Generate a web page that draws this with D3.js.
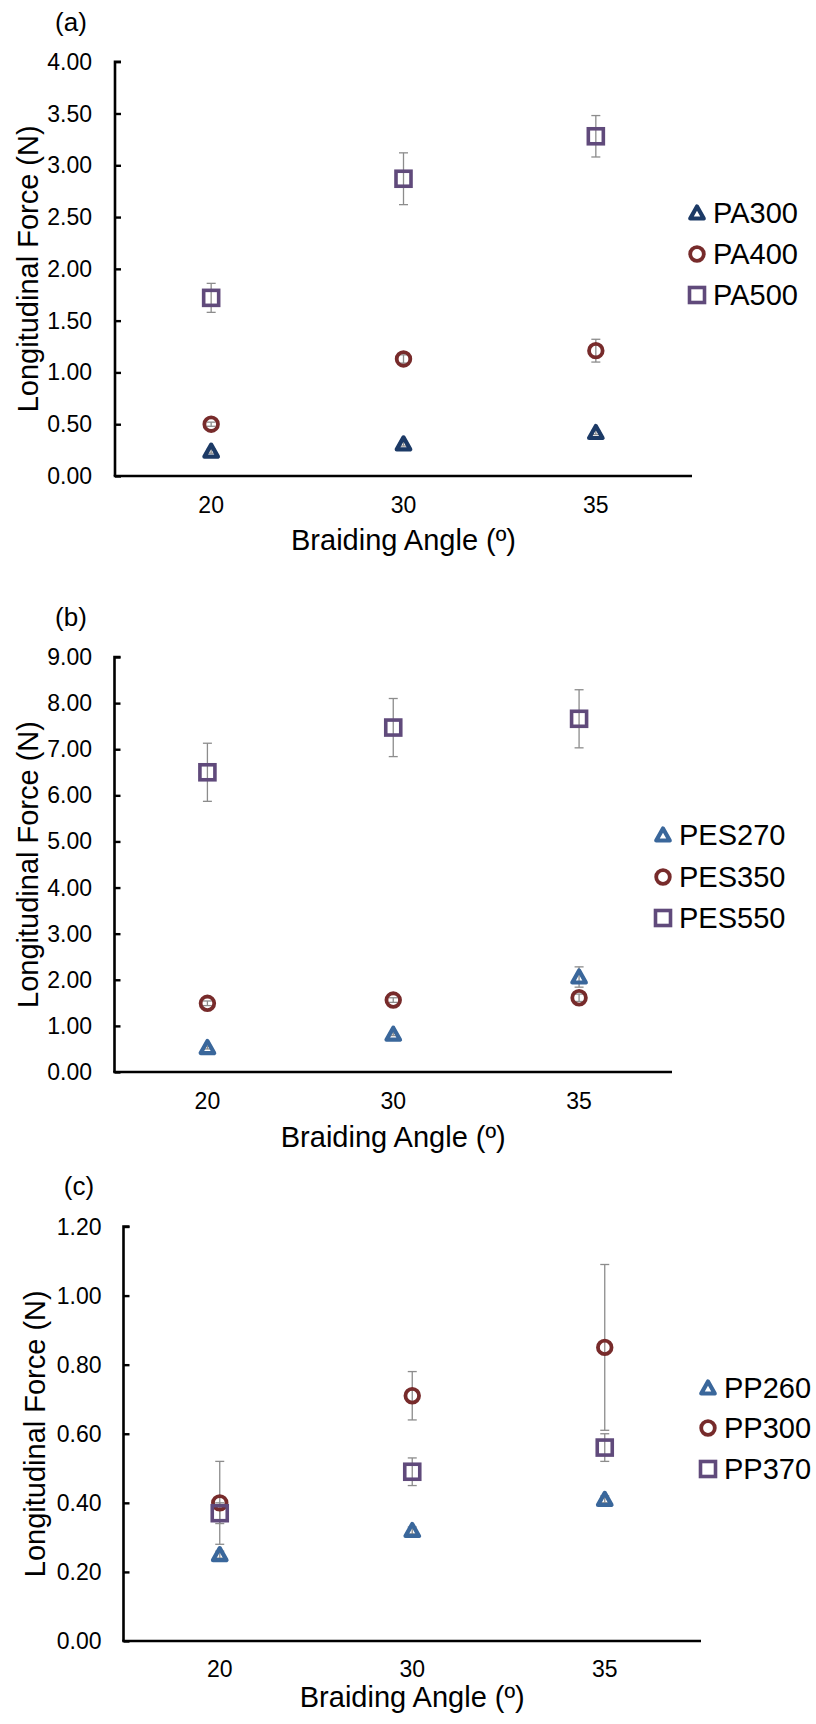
<!DOCTYPE html>
<html>
<head>
<meta charset="utf-8">
<script src="https://cdn.jsdelivr.net/npm/d3@7"></script>
<style>
  html, body { margin: 0; padding: 0; background: #fff; }
  svg { display: block; font-family: "Liberation Sans", Arial, sans-serif; }
</style>
</head>
<body>
<svg id="chart" width="816" height="1724"></svg>
<script>
// ---------------- DATA ----------------
const categories = ["20", "30", "35"];

// Panel (a)
const aNames = ["PA300", "PA400", "PA500"];
const aPA300 = [0.24, 0.31, 0.42];
const aPA300Err = [0.02, 0.02, 0.02];
const aPA400 = [0.50, 1.13, 1.21];
const aPA400Err = [0.02, 0.04, 0.11];
const aPA500 = [1.72, 2.87, 3.28];
const aPA500Err = [0.14, 0.25, 0.20];
const aTicks = [0, 0.5, 1, 1.5, 2, 2.5, 3, 3.5, 4];

// Panel (b)
const bNames = ["PES270", "PES350", "PES550"];
const bPES270 = [0.53, 0.82, 2.06];
const bPES270Err = [0.03, 0.03, 0.22];
const bPES350 = [1.49, 1.56, 1.61];
const bPES350Err = [0.05, 0.05, 0.08];
const bPES550 = [6.50, 7.47, 7.66];
const bPES550Err = [0.63, 0.63, 0.63];
const bTicks = [0, 1, 2, 3, 4, 5, 6, 7, 8, 9];

// Panel (c)
const cNames = ["PP260", "PP300", "PP370"];
const cPP260 = [0.25, 0.32, 0.41];
const cPP260Err = [0.01, 0.01, 0.01];
const cPP300 = [0.40, 0.71, 0.85];
const cPP300Err = [0.12, 0.07, 0.24];
const cPP370 = [0.37, 0.49, 0.56];
const cPP370Err = [0.03, 0.04, 0.04];
const cTicks = [0, 0.2, 0.4, 0.6, 0.8, 1.0, 1.2];

const xTitle = "Braiding Angle (º)";
const yTitle = "Longitudinal Force (N)";

// ---------------- STYLE ----------------
const shapes = ["triangle", "circle", "square"];
const colorsA = ["#1c3a66", "#772b2b", "#604a7b"];
const colorsBC = ["#3a679b", "#772b2b", "#604a7b"];

const svg = d3.select("#chart");

function drawMarker(g, shape, color, x, y) {
  if (shape === "square") {
    g.append("rect").attr("x", x - 7.5).attr("y", y - 7.5)
      .attr("width", 15).attr("height", 15)
      .attr("fill", "none").attr("stroke", color).attr("stroke-width", 3.6);
  } else if (shape === "circle") {
    g.append("circle").attr("cx", x).attr("cy", y).attr("r", 6.8)
      .attr("fill", "none").attr("stroke", color).attr("stroke-width", 3.8);
  } else {
    const h = 12, w = 13.5;
    g.append("path")
      .attr("d", `M${x},${y - h / 2 - 0.5} L${x + w / 2},${y + h / 2 - 0.5} L${x - w / 2},${y + h / 2 - 0.5} Z`)
      .attr("fill", "none").attr("stroke", color).attr("stroke-width", 4.2)
      .attr("stroke-linejoin", "round");
  }
}

function panel(cfg) {
  const g = svg.append("g");
  const x = d3.scaleBand().domain(categories).range([cfg.x0, cfg.x1]);
  const y = d3.scaleLinear().domain([cfg.ticks[0], cfg.ticks[cfg.ticks.length - 1]]).range([cfg.y0, cfg.y1]);

  // panel label
  g.append("text").attr("x", cfg.labelX).attr("y", cfg.labelY).attr("dy", "0.35em")
    .attr("text-anchor", "middle").attr("font-size", 26).attr("fill", "#000").text(cfg.label);

  // y axis
  const yAxis = d3.axisRight(y).tickValues(cfg.ticks).tickSize(6).tickFormat(() => "");
  const ya = g.append("g").attr("transform", `translate(${cfg.x0},0)`).call(yAxis);
  ya.select(".domain").attr("stroke", "#000").attr("stroke-width", 2.6)
    .attr("d", `M6,${cfg.y1}H0V${cfg.y0}`);
  ya.selectAll(".tick line").attr("stroke", "#000").attr("stroke-width", 2.4);

  // y tick labels
  g.selectAll(".ylab").data(cfg.ticks).enter().append("text")
    .attr("x", cfg.yLabRight).attr("y", d => y(d)).attr("dy", "0.35em")
    .attr("text-anchor", "end").attr("font-size", 23).attr("fill", "#000")
    .text(d => d3.format(".2f")(d));

  // x axis
  const xAxis = d3.axisBottom(x).tickSize(0).tickFormat(() => "");
  const xa = g.append("g").attr("transform", `translate(0,${cfg.y0})`).call(xAxis);
  xa.select(".domain").attr("stroke", "#000").attr("stroke-width", 2.6)
    .attr("d", `M${cfg.x0 - 1.3},0H${cfg.x1}`);

  g.selectAll(".xlab").data(categories).enter().append("text")
    .attr("x", d => x(d) + x.bandwidth() / 2).attr("y", cfg.xLabY).attr("dy", "0.35em")
    .attr("text-anchor", "middle").attr("font-size", 23).attr("fill", "#000").text(d => d);

  // titles
  g.append("text").attr("x", (cfg.x0 + cfg.x1) / 2).attr("y", cfg.xTitleY).attr("dy", "0.35em")
    .attr("text-anchor", "middle").attr("font-size", 29).attr("fill", "#000").text(xTitle);
  g.append("text")
    .attr("transform", `translate(${cfg.yTitleX},${(cfg.y0 + cfg.y1) / 2}) rotate(-90)`)
    .attr("dy", "0.35em").attr("text-anchor", "middle").attr("font-size", 29).attr("fill", "#000")
    .text(yTitle);

  // error bars (behind markers)
  cfg.series.forEach((s, si) => {
    s.values.forEach((v, i) => {
      const cx = x(categories[i]) + x.bandwidth() / 2;
      const e = s.err[i];
      const yt = y(v + e), yb = y(v - e);
      g.append("line").attr("x1", cx).attr("x2", cx).attr("y1", yt).attr("y2", yb)
        .attr("stroke", "#8c8c8c").attr("stroke-width", 1.3);
      [yt, yb].forEach(yy => g.append("line").attr("x1", cx - 4.5).attr("x2", cx + 4.5)
        .attr("y1", yy).attr("y2", yy).attr("stroke", "#8c8c8c").attr("stroke-width", 1.3));
    });
  });
  // markers
  cfg.series.forEach((s, si) => {
    s.values.forEach((v, i) => {
      const cx = x(categories[i]) + x.bandwidth() / 2;
      drawMarker(g, shapes[si], cfg.colors[si], cx, y(v));
    });
  });

  // legend
  cfg.series.forEach((s, si) => {
    const ly = cfg.legY[si];
    drawMarker(g, shapes[si], cfg.colors[si], cfg.legX, ly);
    g.append("text").attr("x", cfg.legX + 16).attr("y", ly).attr("dy", "0.35em")
      .attr("font-size", 29).attr("fill", "#000").text(s.name);
  });
}

panel({
  label: "(a)", labelX: 71, labelY: 22,
  x0: 115, x1: 692, y0: 476, y1: 61.7, ticks: aTicks, yLabRight: 92,
  xLabY: 505, xTitleY: 540, yTitleX: 28,
  colors: colorsA,
  legX: 697, legY: [213, 254, 295],
  series: [
    { name: aNames[0], values: aPA300, err: aPA300Err },
    { name: aNames[1], values: aPA400, err: aPA400Err },
    { name: aNames[2], values: aPA500, err: aPA500Err }
  ]
});

panel({
  label: "(b)", labelX: 71, labelY: 617,
  x0: 114.5, x1: 672, y0: 1072, y1: 657, ticks: bTicks, yLabRight: 92,
  xLabY: 1101, xTitleY: 1137, yTitleX: 28,
  colors: colorsBC,
  legX: 663, legY: [835, 877, 918],
  series: [
    { name: bNames[0], values: bPES270, err: bPES270Err },
    { name: bNames[1], values: bPES350, err: bPES350Err },
    { name: bNames[2], values: bPES550, err: bPES550Err }
  ]
});

panel({
  label: "(c)", labelX: 79, labelY: 1186,
  x0: 123.5, x1: 701, y0: 1641, y1: 1226.5, ticks: cTicks, yLabRight: 101.5,
  xLabY: 1669, xTitleY: 1697, yTitleX: 35,
  colors: colorsBC,
  legX: 708, legY: [1388, 1428, 1469],
  series: [
    { name: cNames[0], values: cPP260, err: cPP260Err },
    { name: cNames[1], values: cPP300, err: cPP300Err },
    { name: cNames[2], values: cPP370, err: cPP370Err }
  ]
});
</script>
</body>
</html>
